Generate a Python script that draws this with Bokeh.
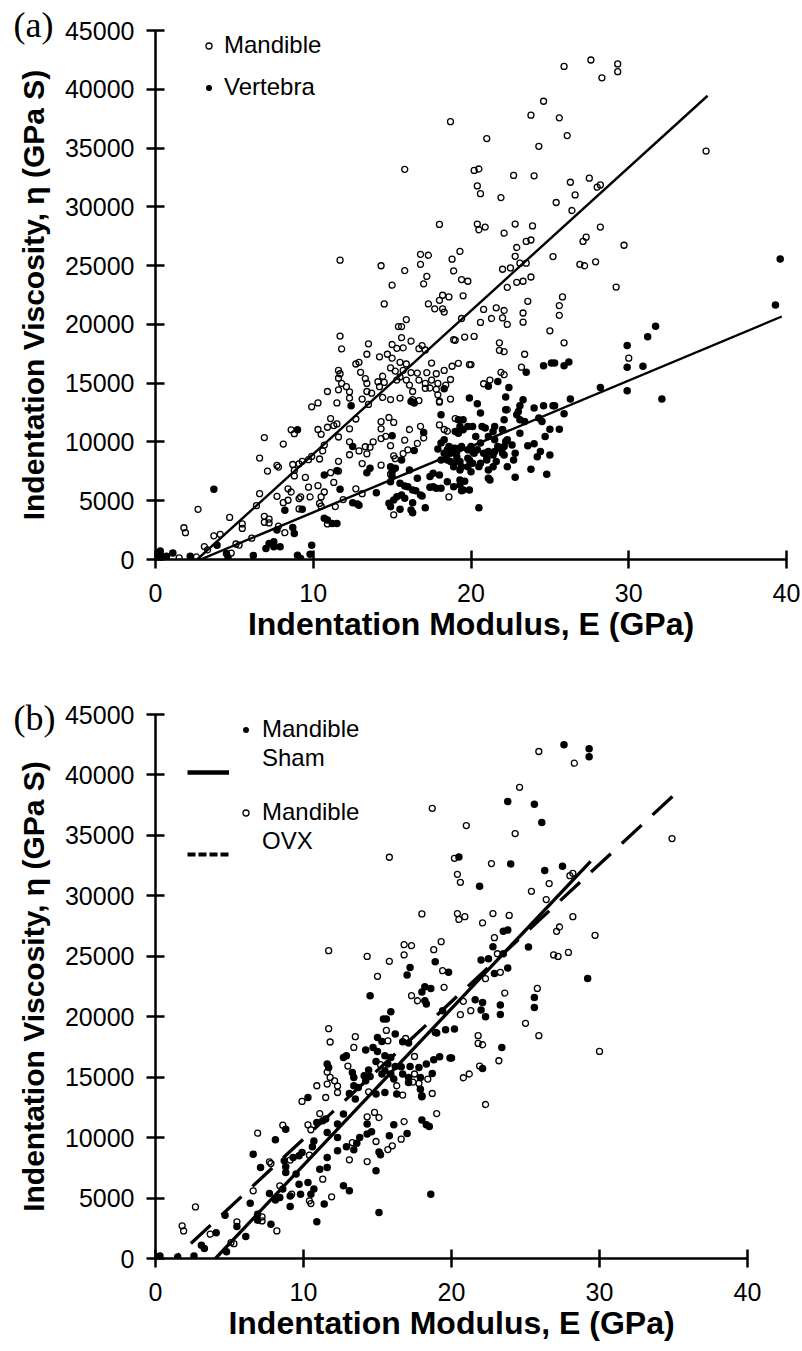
from bokeh.plotting import figure
from bokeh.models import (FixedTicker, PrintfTickFormatter, Legend, LegendItem,
                          Title, Range1d, ColumnDataSource, Plot)
from bokeh.layouts import column
from bokeh.embed import file_html
from bokeh.resources import INLINE

# ---------------- data ----------------
# Mandible, Sham group (filled in panel b)
sham_E = [27.6, 29.3, 29.3, 23.8, 25.6, 26.1, 20.5, 24.0, 26.3, 27.5, 21.9, 23.5, 23.8, 22.8, 25.2, 22.0, 22.5,
          23.5, 18.9, 19.8, 23.8, 22.9, 29.2, 17.0, 17.2, 18.2, 18.6,
          21.6, 22.1, 22.0, 22.3, 23.3, 23.3, 25.6, 25.6, 20.2, 20.0, 23.4, 22.1,
          14.5, 18.0, 18.2, 18.3, 19.4, 15.9, 15.4, 15.6, 19.6, 19.0, 15.0, 15.3, 16.2, 16.7, 17.1, 14.7, 15.0,
          14.2, 12.9, 12.7, 15.5, 15.9, 14.9, 15.7, 16.2, 19.2, 19.9, 17.2, 17.8, 18.3, 18.7, 11.6, 11.7, 13.3,
          13.4, 14.4, 14.5, 14.1, 14.2, 15.3, 15.5, 15.9, 16.1, 16.6, 16.7, 17.1, 17.1, 17.9, 18.0, 14.9, 15.5,
          16.3, 13.4, 13.7, 13.1, 10.3, 13.5,
          8.1, 6.6, 7.1, 8.7, 8.8, 9.3, 9.7, 9.9, 10.6, 10.7, 10.9, 11.3, 11.5, 11.6, 12.3, 12.7, 12.3, 11.6,
          11.6, 11.1, 12.3, 12.7, 13.1, 11.4, 10.9, 9.7, 9.5, 10.3, 10.7, 9.8, 10.5, 9.1, 9.1, 8.4, 8.1, 7.7,
          6.4, 6.9, 6.9, 7.8, 6.1, 5.5, 4.7, 4.1, 3.3, 3.1, 2.6, 4.8, 8.6, 8.8,
          0.3, 0.0, 1.5, 8.8, 15.1, 18.6, 14.9, 15.2, 15.1, 13.4, 12.9, 13.6, 14.3, 14.6, 13.8, 14.3, 15.8,
          16.1, 17.0, 18.0, 18.5, 18.3, 17.9, 18.0, 18.8]
sham_eta = [42490, 42160, 41500, 37800, 37570, 36060, 33220, 32640, 32090, 32440, 30790, 27060, 27180, 25790,
            25770, 24690, 24800, 25210, 24550, 23670, 24030, 23580, 23170, 23450, 24080, 22480, 22340,
            21410, 21180, 20550, 20000, 20970, 20190, 21600, 20770, 18980, 16580, 17460, 15720,
            21740, 22050, 21320, 21050, 20500, 20410, 19810, 19810, 18920, 18650, 18290, 17960, 18570, 17930,
            17820, 17460, 17130, 17240, 16770, 16630, 16770, 16630, 16300, 16080, 15890, 16690, 16580, 15890,
            15800, 16080, 15310, 16080, 15800, 15390, 14980, 15590, 15060, 15120, 14700, 15260, 15530, 15260,
            14840, 15860, 15260, 14980, 14560, 14980, 13460, 13600, 13730, 13600, 14290, 14150, 13650, 13320,
            13190,
            9820, 8630, 7520, 8080, 7580, 8350, 8490, 8770, 9240, 9730, 11250, 11390, 11530, 10420, 11120,
            11950, 10010, 8350, 7520, 7390, 8910, 6010, 5600, 4500, 3030, 6150, 6980, 6280, 5740, 5320, 5320,
            5180, 4300, 5040, 4830, 5370, 4580, 3670, 3170, 2840, 1810, 2640, 3580, 2140, 820, 1100, 215, 550,
            5740, 7110,
            215, 130, 130, 10700, 3800, 5320, 7250, 8580, 8820, 8990, 9240, 9540, 11120, 10480, 10010, 10290,
            10150, 11060, 10340, 11450, 10920, 11060, 14010, 13380, 16440]

# Mandible, OVX group (open in panel b)
ovx_E = [25.9, 28.3, 24.6, 18.7, 21.0, 24.3, 34.9, 20.2, 22.7, 20.4, 20.6, 25.4, 26.6, 28.0, 28.2, 26.4, 18.0,
         20.4, 20.5, 20.9, 22.1, 22.8, 23.9, 27.3, 27.1, 28.2, 29.7, 22.9, 19.3, 16.8, 17.3, 18.8, 16.8, 26.9,
         27.2, 27.9, 23.1, 19.4, 23.3, 22.3, 19.5, 25.8,
         23.6, 20.8, 21.3, 20.6, 25.0, 25.9, 21.8, 21.8, 22.1, 30.0, 23.2, 21.9, 20.8, 21.2, 22.3,
         15.8, 11.7, 14.3, 15.8, 15.0,
         17.3, 17.7, 11.7, 11.8, 13.5, 13.4, 15.6, 15.7, 16.9, 17.5, 18.9, 15.2, 13.0, 11.6, 11.8, 12.1, 12.3,
         11.6, 10.9, 17.5, 17.4, 17.8, 18.4, 18.7, 16.7, 16.3, 14.4, 12.3, 11.5,
         9.9, 11.1, 10.3, 10.5, 8.6, 6.9, 9.1, 7.7, 7.8, 10.4, 11.3, 10.4, 10.5, 11.9, 8.4, 9.2, 6.6, 7.2, 7.2,
         5.5, 8.2, 2.7, 1.8, 1.9, 3.7, 5.1, 5.3,
         14.3, 13.1, 13.3, 14.3, 14.8, 15.1, 14.9, 16.0, 15.7, 16.6, 16.8, 19.0]
ovx_eta = [41940, 40970, 38980, 37240, 35810, 35150, 34740, 33100, 32670, 31780, 31120, 30370, 31010, 31670,
           31860, 29690, 28500, 28530, 28050, 28280, 27760, 28530, 28380, 27420, 27060, 28280, 26730, 26540,
           26210, 25960, 25880, 25550, 25110, 25110, 24990, 25320, 25210, 23810, 23670, 23150, 22430, 22340,
           21960, 21270, 20500, 20170, 19450, 18430, 18430, 17790, 17680, 17130, 16360, 15920, 14950, 15260,
           12740,
           33190, 25460, 24990, 24580, 23340,
           21740, 21320, 19010, 17910, 18350, 17460, 18870, 18010, 18200, 16710, 18700, 16030, 15920, 15420,
           14980, 14700, 14260, 14430, 14290, 15260, 14590, 14480, 14840, 13650, 13520, 14290, 13790, 13730,
           13320,
           12990, 11990, 11060, 10650, 11030, 10370, 8140, 8000, 7860, 8550, 6560, 4770, 4540, 5100, 6010,
           5320, 5600, 3440, 3110, 3030, 2280, 4270, 2700, 2280, 2010, 1320, 1230,
           8020, 8160, 9590, 11720, 12080, 11660, 9680, 9320, 9010, 9870, 11330, 11990]

# Vertebra (filled in panel a)
vert_E = [0.1, 0.3, 0.4, 0.7, 1.1, 0.3, 2.2, 3.7, 3.9, 4.5, 4.6, 6.2, 7.0, 7.2, 7.5, 7.5, 7.9, 7.7, 8.2, 8.7,
          8.8, 9.0, 9.0, 9.2, 9.9, 9.8, 9.3, 10.7, 10.7, 10.9, 11.2, 11.5, 11.5, 11.7, 12.4, 12.5, 12.5, 12.8,
          12.9, 13.4, 13.6, 14.0, 15.0, 14.9, 15.0, 15.2, 14.8, 14.9, 15.1, 15.3, 14.9, 15.5, 15.8, 15.5, 15.6,
          16.0, 16.3, 16.5, 16.2, 16.4, 16.3, 16.3, 16.4, 16.6, 17.0, 16.9, 17.1, 17.4, 17.6, 17.8, 18.1, 17.4,
          17.6, 18.0, 18.1, 18.3, 18.1, 18.3, 18.3, 18.1, 18.5, 18.6, 18.7, 18.7, 18.9, 19.0, 19.1, 19.2, 19.5,
          19.8, 19.3, 19.4, 19.5, 19.9, 20.0, 20.2, 20.0, 19.8, 19.9, 20.1, 20.3, 20.4, 20.6, 20.7, 20.5, 20.6,
          20.8, 21.0, 21.1, 21.2, 21.1, 21.7, 21.1, 21.4, 21.5, 21.7,
          19.2, 19.5, 19.0, 19.3, 20.9, 21.5, 22.0, 22.3, 22.1, 17.9, 18.5, 18.8, 19.1, 19.4, 19.8, 20.1, 20.4,
          21.1, 21.5, 21.8, 22.0, 18.5, 19.1, 19.8, 20.1, 20.6, 21.0, 21.6, 19.3, 20.5, 21.1, 22.3, 15.0, 16.1,
          16.8, 16.2, 15.6, 15.8, 19.3, 18.9, 19.3, 19.9,
          29.9, 29.9, 29.9, 28.2, 24.6, 25.1, 25.3, 25.9, 26.2, 23.5, 22.4, 22.2, 23.3, 23.1, 23.0, 22.9, 24.0,
          24.6, 25.2, 25.3, 26.3, 25.9, 22.2, 22.1, 22.0, 23.1, 23.4, 23.1, 24.3, 24.5, 25.0, 25.6, 24.7, 21.4,
          21.4, 22.2, 22.6, 22.1, 22.8, 22.7, 23.6, 24.0, 24.4, 24.2, 25.0, 23.8, 24.8, 22.8,
          39.3, 31.7, 31.2, 30.9, 32.1, 39.6, 19.4, 19.6]
vert_eta = [560, 730, 280, 280, 560, 110, 280, 5970, 1220, 510, 170, 340, 940, 1370, 1500, 1080, 1080, 2500,
            4200, 2730, 2220, 11030, 370, 85, 1220, 450, 4270, 7190, 3500, 3350, 3070, 3070, 7560, 5970, 13080,
            9610, 4830, 4720, 4610, 7390, 7760, 5680, 10520, 7900, 7470, 7760, 4780, 4490, 5060, 5340, 6620,
            6480, 6250, 4270, 8470, 6190, 5910, 5850, 13450, 13310, 4830, 3980, 9270, 6910, 10800, 5400, 4400,
            6140, 6190, 6060, 6060, 7050, 7340, 7190, 8470, 9040, 12310, 14530, 10180, 9900, 6620, 9610, 9040,
            8330, 7900, 9470, 8750, 10750, 11030, 11310, 8330, 7900, 5910, 13740, 9610, 9040, 7470, 7900, 8470,
            11310, 10460, 13250, 12460, 11310, 4400, 9900, 9040, 8470, 7620, 6770, 14730, 15150, 10460, 10890,
            10180, 9610,
            11890, 11890, 10890, 11310, 11180, 11310, 11030, 10180, 9610, 9410, 9330, 9470, 9180, 9610, 9330,
            9180, 9330, 9180, 9180, 9470, 9040, 8470, 8330, 8620, 8190, 8190, 8620, 8330, 7620, 7900, 6910,
            7900, 7050, 7620, 5490, 4210, 5490, 5200, 6770, 6190, 6340, 5910,
            18200, 16350, 14360, 14640, 16490, 16720, 16720, 16490, 16810, 15920, 14640, 13820, 13590, 13080,
            12590, 12310, 12880, 13080, 13080, 13080, 13650, 12400, 12740, 11890, 11030, 11890, 11740, 10750,
            12030, 11740, 11090, 11090, 10460, 8900, 7900, 10030, 9750, 8900, 9040, 8470, 9670, 9840, 9180,
            8750, 8900, 7680, 7250, 7000,
            21640, 19850, 18940, 16430, 13650, 25570, 5850, 6650]

# fitted regression lines (end points)
fit_mand_E, fit_mand_eta = [2.64, 35.0], [0, 39450]
fit_vert_E, fit_vert_eta = [2.85, 39.7], [0, 20670]
fit_sham_E, fit_sham_eta = [4.05, 29.4], [0, 32860]
fit_ovx_E, fit_ovx_eta = [1.3, 35.0], [0, 38300]

x_ticks = [0, 10, 20, 30, 40]
y_ticks = [0, 5000, 10000, 15000, 20000, 25000, 30000, 35000, 40000, 45000]

x_label = "Indentation Modulus, E (GPa)"
y_label = "Indentation Viscosity, \u03b7 (GPa S)"

FONT = "Liberation Sans"
NAN = float("nan")

# can each panel keep its own frame width inside the column?
CAN_UNALIGN = "frame_align" in Plot.properties()


def style(p):
    p.xaxis.ticker = FixedTicker(ticks=x_ticks)
    p.yaxis.ticker = FixedTicker(ticks=y_ticks)
    p.yaxis.formatter = PrintfTickFormatter(format="%d")
    p.xaxis.formatter = PrintfTickFormatter(format="%d")
    for ax in (p.xaxis[0], p.yaxis[0]):
        ax.axis_line_width = 2.5
        ax.axis_line_color = "black"
        ax.major_tick_line_width = 2.5
        ax.major_tick_line_color = "black"
        ax.major_tick_in = 9
        ax.major_tick_out = 9
        ax.minor_tick_line_color = None
        ax.major_label_text_font = FONT
        ax.major_label_text_font_size = "25px"
        ax.major_label_text_color = "black"
        ax.axis_label_text_font = FONT
        ax.axis_label_text_font_style = "bold"
        ax.axis_label_text_color = "black"
    p.xaxis.bounds = (0, 40)
    p.xaxis.axis_label_text_font_size = "32px"
    p.yaxis.axis_label_text_font_size = "30px"
    p.xaxis.major_label_standoff = 15
    p.xaxis.axis_label_standoff = 1
    p.yaxis.major_label_standoff = 12
    p.yaxis.axis_label_standoff = 12
    p.xaxis.axis_label = x_label
    p.yaxis.axis_label = y_label
    p.xgrid.visible = False
    p.ygrid.visible = False
    p.outline_line_color = None
    p.background_fill_color = "white"
    p.border_fill_color = "white"
    if CAN_UNALIGN:
        p.frame_align = False


def legend(items, loc, gw, gh, standoff, spacing, size="24px"):
    return Legend(items=items, location=loc, orientation="vertical",
                  glyph_width=gw, glyph_height=gh, label_standoff=standoff, spacing=spacing,
                  padding=0, margin=0, border_line_color=None, background_fill_alpha=0,
                  label_text_font=FONT, label_text_font_size=size, label_text_color="black")


def panel_tag(text, standoff):
    return Title(text=text, align="left", offset=-142, standoff=standoff,
                 text_font="Liberation Serif", text_font_size="36px",
                 text_font_style="normal", text_color="black")


# ---------------- panel (a) ----------------
pa = figure(width=802, height=652, x_range=Range1d(0, 40), y_range=Range1d(0, 45000),
            output_backend="svg", toolbar_location=None,
            min_border_left=155, min_border_right=16, min_border_top=30, min_border_bottom=93)
style(pa)

mand_src = ColumnDataSource(dict(E=sham_E + ovx_E, eta=sham_eta + ovx_eta))
vert_src = ColumnDataSource(dict(E=vert_E, eta=vert_eta))

r_mand = pa.scatter("E", "eta", source=mand_src, marker="circle", size=6, line_width=1.3,
                    line_color="black", fill_color=None)
r_vert = pa.scatter("E", "eta", source=vert_src, marker="circle", size=7.5, line_width=0,
                    line_color="black", fill_color="black")
pa.line(fit_mand_E, fit_mand_eta, line_color="black", line_width=2.4)
pa.line(fit_vert_E, fit_vert_eta, line_color="black", line_width=2.4)

pa.add_layout(legend([LegendItem(label="Mandible", renderers=[r_mand]),
                      LegendItem(label="Vertebra", renderers=[r_vert])],
                     (46, 458), 15, 15, 8, 14))
pa.add_layout(panel_tag("(a)", -28), "above")

# ---------------- panel (b) ----------------
# panel (b) is drawn at a smaller horizontal scale: 0..40 spans 592 px (frame 155..747)
if CAN_UNALIGN:
    xr_b, right_b = Range1d(0, 40), 55
else:
    xr_b, right_b = Range1d(0, 40 * 631 / 592), 16
pb = figure(width=802, height=699, x_range=xr_b, y_range=Range1d(0, 45000),
            output_backend="svg", toolbar_location=None,
            min_border_left=155, min_border_right=right_b, min_border_top=62, min_border_bottom=93)
style(pb)

sham_src = ColumnDataSource(dict(E=sham_E, eta=sham_eta))
ovx_src = ColumnDataSource(dict(E=ovx_E, eta=ovx_eta))

r_sham = pb.scatter("E", "eta", source=sham_src, marker="circle", size=7.5, line_width=0,
                    fill_color="black", line_color="black")
r_ovx = pb.scatter("E", "eta", source=ovx_src, marker="circle", size=6, line_width=1.3,
                   fill_color=None, line_color="black")
pb.line(fit_sham_E, fit_sham_eta, line_color="black", line_width=3.3)
pb.line(fit_ovx_E, fit_ovx_eta, line_color="black", line_width=3.3, line_dash="27 15",
        line_dash_offset=20)

# legend keys: blank key for the second text line, solid / dotted keys for the fits
blank = pb.scatter([NAN], [NAN], size=0, fill_alpha=0, line_alpha=0)
key_sham = pb.line([NAN, NAN], [NAN, NAN], line_color="black", line_width=4.5)
key_ovx = pb.line([NAN, NAN], [NAN, NAN], line_color="black", line_width=4, line_dash="8 3")

pb.add_layout(legend([LegendItem(label="Mandible", renderers=[r_sham]),
                      LegendItem(label="Sham", renderers=[blank])],
                     (83, 486), 15, 15, 9, 1))
pb.add_layout(legend([LegendItem(label="Mandible", renderers=[r_ovx]),
                      LegendItem(label="OVX", renderers=[blank])],
                     (83, 403), 15, 15, 9, 1))
pb.add_layout(legend([LegendItem(label=" ", renderers=[key_sham]),
                      LegendItem(label=" ", renderers=[key_ovx])],
                     (32, 390), 42, 28, 0, 54))
pb.add_layout(panel_tag("(b)", -46), "above")

layout = column(pa, pb, spacing=0)
open("out.html", "w").write(file_html(layout, INLINE))
